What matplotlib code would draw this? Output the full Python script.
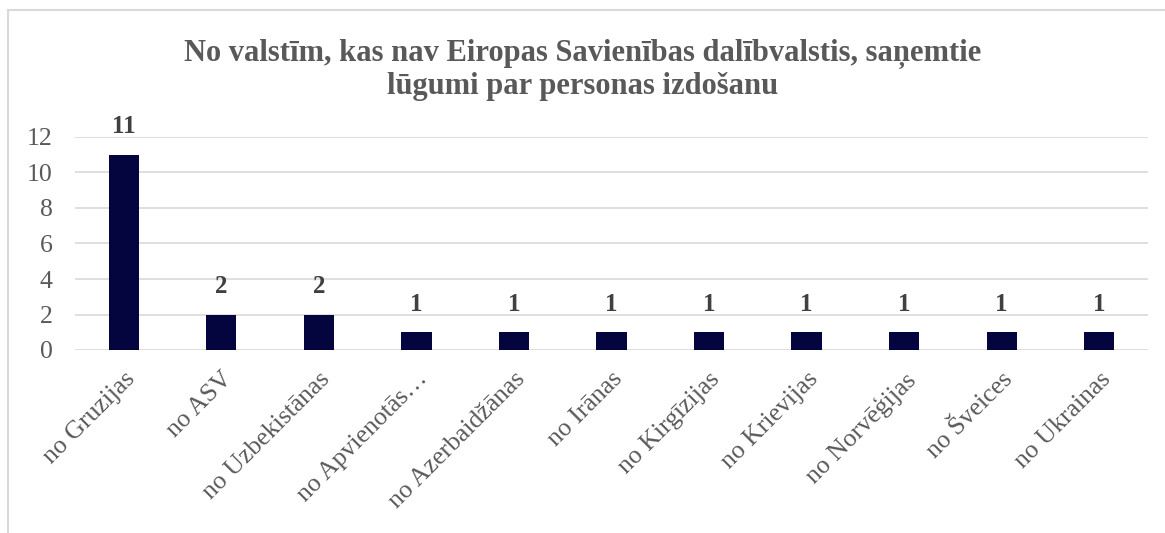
import matplotlib.pyplot as plt
from matplotlib.patches import Rectangle

categories = ["no Gruzijas", "no ASV", "no Uzbekistānas", "no Apvienotās…",
              "no Azerbaidžānas", "no Irānas", "no Kirgīzijas", "no Krievijas",
              "no Norvēģijas", "no Šveices", "no Ukrainas"]
values = [11, 2, 2, 1, 1, 1, 1, 1, 1, 1, 1]
yticks = [0, 2, 4, 6, 8, 10, 12]
title = "No valstīm, kas nav Eiropas Savienības dalībvalstis, saņemtie\nlūgumi par personas izdošanu"

W, H = 1165, 533
plt.rcParams['font.family'] = ['Liberation Serif', 'DejaVu Serif']

fig = plt.figure(figsize=(W / 100, H / 100), dpi=100)
# chart border
fig.patches.append(Rectangle((8 / W, -0.1), 1.2, 1 - 10 / H + 0.1, transform=fig.transFigure,
                             fill=False, edgecolor='#d9d9d9', linewidth=1.5))

ax = fig.add_axes([75 / W, 1 - 350 / H, (1148 - 75) / W, (350 - 137) / H])
x = range(len(categories))
bars = ax.bar(x, values, width=0.31, color='#04043f', zorder=3)
ax.set_xlim(-0.5, len(categories) - 0.5)
ax.set_ylim(0, 12)
ax.set_yticks(yticks)
ax.grid(axis='y', color='#d9d9d9', linewidth=1.2, zorder=0)
for s in ax.spines.values():
    s.set_visible(False)
ax.tick_params(axis='both', length=0, colors='#595959', labelsize=18.5)
ax.tick_params(axis='y', pad=16)
ax.set_xticks(list(x))
ax.set_xticklabels(categories, rotation=45, ha='right', va='top', rotation_mode='anchor')
ax.tick_params(axis='x', pad=13)

for xi, v in zip(x, values):
    ax.annotate(str(v), (xi, v), xytext=(0, 20), textcoords='offset points',
                ha='center', va='center', fontsize=18, fontweight='bold', color='#404040')

fig.text(583 / W, 1 - 70 / H, title, ha='center', va='center', fontsize=22,
         fontweight='bold', color='#595959', linespacing=1.15)

fig.savefig('out.png', dpi=100)
